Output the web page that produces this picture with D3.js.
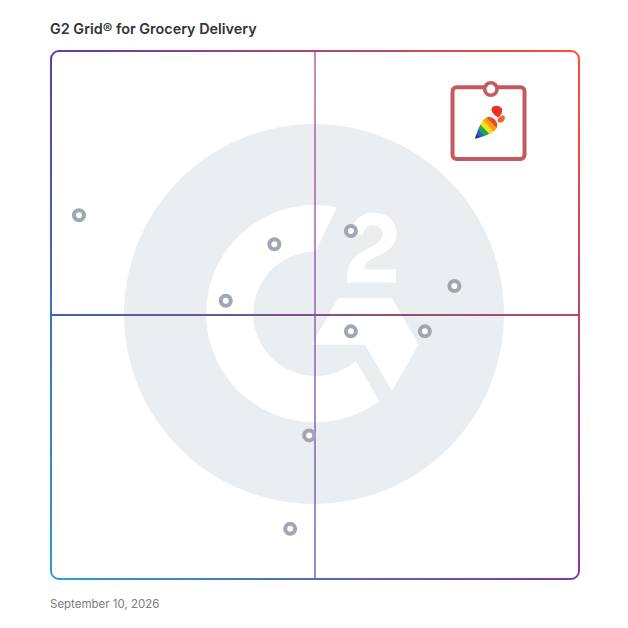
<!DOCTYPE html>
<html><head><meta charset="utf-8">
<script src="https://cdn.jsdelivr.net/npm/d3@7/dist/d3.min.js"></script>
<style>html,body{margin:0;padding:0;background:#fff}svg{display:block}</style>
</head><body><svg id="c" width="628" height="628"></svg>
<script>
const titleText = "G2 Grid® for Grocery Delivery";
const dateText = "September 10, 2026";
// satisfaction (x) and market presence (y), 0-100
const productX = [5.3, 42.3, 56.8, 76.4, 33.1, 56.8, 70.8, 48.9, 45.3];
const productY = [68.9, 63.4, 65.9, 55.5, 52.7, 46.9, 46.9, 27.2, 9.5];
const leaderX = [83.3];
const leaderY = [92.8];
const cornerColors = {tl:"#5a3fa8", tr:"#ff5030", br:"#7f3a9c", bl:"#2a9dd8"};
const carrotStripes = ["#3b1a8f","#1e63c8","#1fa84a","#f7e017","#f6a01a","#ee4a24"];

const svg = d3.select("#c");
const L=51,R=579,T=51,B=579,rad=8;
const x = d3.scaleLinear().domain([0,100]).range([L,R]);
const y = d3.scaleLinear().domain([0,100]).range([B,T]);
const defs = svg.append("defs");
function grad(id,x1,y1,x2,y2,c1,c2){
  const g=defs.append("linearGradient").attr("id",id).attr("gradientUnits","userSpaceOnUse")
    .attr("x1",x1).attr("y1",y1).attr("x2",x2).attr("y2",y2);
  g.append("stop").attr("offset",0).attr("stop-color",c1);
  g.append("stop").attr("offset",1).attr("stop-color",c2);
}
const c=cornerColors;
grad("gT",L,0,R,0,c.tl,c.tr);
grad("gB",L,0,R,0,c.bl,c.br);
grad("gL",0,T,0,B,c.tl,c.bl);
grad("gR",0,T,0,B,c.tr,c.br);
grad("gH",L,0,R,0,"#3f62ae","#bd4566");
grad("gV",0,T,0,B,"#a8448f","#5548b8");

// watermark
const cx=x(50)-1, cy=y(50)-1;
svg.append("circle").attr("cx",cx).attr("cy",cy).attr("r",190).attr("fill","#ebeef1");
const logo=svg.append("g").attr("fill","#fff");
// C ring
logo.append("path").attr("d",
 "M337,207.3 A108.6,108.6 0 1 0 379.3,401 L356,361 A62.2,62.2 0 1 1 315.3,251.6 Z");
// delta
logo.append("path").attr("d","M338,298.2 L392,298.2 L418.6,344.5 L392,391 L365,344.8 L311.5,344.8 Z");
// numeral 2 (zoom-space outline scaled back)
logo.append("path").attr("transform","translate(190,190) scale(.3333)").attr("d",
 "M483,128 C488,92 512,68 550,68 C592,68 620,94 620,130 C620,160 603,178 575,192 L545,207 C532,214 525,222 522,238 L618,238 L618,278 L472,278 L472,258 C472,222 490,198 525,180 L552,166 C570,157 578,146 578,131 C578,116 566,106 549,106 C531,106 521,117 519,134 Z");

// quadrant lines + frame
svg.append("line").attr("x1",x(50)).attr("x2",x(50)+.001).attr("y1",T).attr("y2",B).attr("stroke","url(#gV)").attr("stroke-width",2).attr("stroke-opacity",.62);
svg.append("line").attr("x1",L).attr("x2",R).attr("y1",y(50)).attr("y2",y(50)+.001).attr("stroke","url(#gH)").attr("stroke-width",2);
const frame=svg.append("g").attr("fill","none").attr("stroke-width",2);
frame.append("path").attr("stroke","url(#gT)").attr("d",`M${L},${T+rad}A${rad},${rad} 0 0 1 ${L+rad},${T}H${R-rad}A${rad},${rad} 0 0 1 ${R},${T+rad}`);
frame.append("path").attr("stroke","url(#gB)").attr("d",`M${L},${B-rad}A${rad},${rad} 0 0 0 ${L+rad},${B}H${R-rad}A${rad},${rad} 0 0 0 ${R},${B-rad}`);
frame.append("path").attr("stroke","url(#gL)").attr("d",`M${L},${T+rad}V${B-rad}`);
frame.append("path").attr("stroke","url(#gR)").attr("d",`M${R},${T+rad}V${B-rad}`);

// products
svg.append("g").selectAll("circle").data(d3.zip(productX,productY)).join("circle")
  .attr("cx",d=>x(d[0])).attr("cy",d=>y(d[1])).attr("r",5)
  .attr("fill","#fff").attr("stroke","#a1a6b3").attr("stroke-width",4);

// highlighted product card
const px=x(leaderX[0]), py=y(leaderY[0]);
const card=svg.append("g").attr("transform",`translate(${px},${py})`);
card.append("rect").attr("x",-38.3).attr("y",-1.7).attr("width",72).attr("height",71.7).attr("rx",4)
  .attr("fill","none").attr("stroke","#c25b5e").attr("stroke-width",4);
card.append("circle").attr("r",6.2).attr("fill","#fff").attr("stroke","#c25b5e").attr("stroke-width",3.6);
// carrot icon, local axis runs tip → top
const ic=card.append("g").attr("transform","translate(-16,50) rotate(-44)");
const clip=defs.append("clipPath").attr("id","carrot");
clip.append("path").attr("d","M0,0 C7,-3.500 15,-8 21,-7.800 C26,-7.500 28,-3 28,0 C28,3 26,7.500 21,7.800 C15,8 7,3.500 0,0 Z");
const band=d3.scaleBand().domain(d3.range(carrotStripes.length)).range([0,28]);
ic.append("g").attr("clip-path","url(#carrot)").selectAll("rect").data(carrotStripes).join("rect")
  .attr("x",(d,i)=>band(i)).attr("y",-10).attr("width",band.bandwidth()+.3).attr("height",20).attr("fill",d=>d);
card.append("path").attr("fill","#ee2d24").attr("d","M7.500,28.500 C3,26 -0.500,22 1,19 C3,15.500 9,16 11,19.500 C12,23 10,26 7.500,28.500 Z");
card.append("path").attr("fill","#f0662a").attr("d","M6.500,32 C7,28.500 10,26 13,26.500 C15,28 14,32 11.500,33 C9.500,34 7.500,33.500 6.500,32 Z");

svg.append("text").attr("x",50).attr("y",34).attr("font-family","Inter").attr("font-size",14.4).attr("font-weight",600).attr("fill","#333").text(titleText);
svg.append("text").attr("x",50).attr("y",608).attr("font-family","Inter").attr("font-size",11.5).attr("fill","#7c7c7c").text(dateText);
</script></body></html>
